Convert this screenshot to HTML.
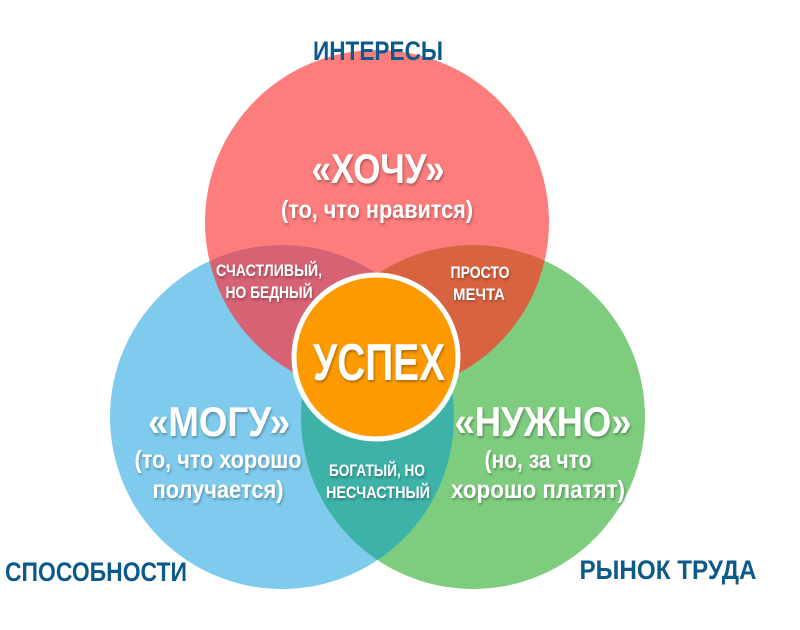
<!DOCTYPE html>
<html><head><meta charset="utf-8"><style>
html,body{margin:0;padding:0;background:#fff;width:800px;height:630px;overflow:hidden}
svg text{font-family:"Liberation Sans",sans-serif;font-weight:bold;text-anchor:middle}
</style></head><body>
<svg width="800" height="630" viewBox="0 0 800 630" xmlns="http://www.w3.org/2000/svg">
<defs>
<filter id="sh" x="-10%" y="-10%" width="120%" height="130%"><feDropShadow dx="1" dy="2" stdDeviation="1.2" flood-color="#000" flood-opacity="0.3"/></filter>
<clipPath id="cR"><circle cx="377" cy="222" r="172"/></clipPath>
<clipPath id="cB"><circle cx="282" cy="417" r="172"/></clipPath>
</defs>
<circle cx="377" cy="222" r="172" fill="#fd7c7c"/>
<circle cx="282" cy="417" r="172" fill="#7ecbee"/>
<circle cx="473" cy="417" r="172" fill="#7ecd7f"/>
<circle cx="282" cy="417" r="172" fill="#d76274" clip-path="url(#cR)"/>
<circle cx="473" cy="417" r="172" fill="#d86340" clip-path="url(#cR)"/>
<circle cx="473" cy="417" r="172" fill="#3cb2a8" clip-path="url(#cB)"/>
<circle cx="376" cy="357" r="82" fill="#fd9a02" stroke="#fff" stroke-width="5"/>
<g fill="#0c5a8a" lengthAdjust="spacingAndGlyphs">
<text x="378" y="60" font-size="27" textLength="130" lengthAdjust="spacingAndGlyphs">ИНТЕРЕСЫ</text>
<text x="96" y="581" font-size="27" textLength="182" lengthAdjust="spacingAndGlyphs">СПОСОБНОСТИ</text>
<text x="668" y="579" font-size="27" textLength="177" lengthAdjust="spacingAndGlyphs">РЫНОК ТРУДА</text>
</g>
<g fill="#fff" filter="url(#sh)">
<text x="378" y="183" font-size="42" textLength="133" lengthAdjust="spacingAndGlyphs">«ХОЧУ»</text>
<text x="377" y="218" font-size="25" textLength="192" lengthAdjust="spacingAndGlyphs">(то, что нравится)</text>
<text x="219" y="436" font-size="42" textLength="142" lengthAdjust="spacingAndGlyphs">«МОГУ»</text>
<text x="218" y="468" font-size="25" textLength="167" lengthAdjust="spacingAndGlyphs">(то, что хорошо</text>
<text x="218" y="498" font-size="25" textLength="131" lengthAdjust="spacingAndGlyphs">получается)</text>
<text x="543" y="436" font-size="42" textLength="177" lengthAdjust="spacingAndGlyphs">«НУЖНО»</text>
<text x="538" y="468" font-size="25" textLength="107" lengthAdjust="spacingAndGlyphs">(но, за что</text>
<text x="538" y="498" font-size="25" textLength="174" lengthAdjust="spacingAndGlyphs">хорошо платят)</text>
<text x="379" y="380" font-size="52" textLength="132" lengthAdjust="spacingAndGlyphs">УСПЕХ</text>
<text x="269" y="276" font-size="17" textLength="106" lengthAdjust="spacingAndGlyphs">СЧАСТЛИВЫЙ,</text>
<text x="269" y="298" font-size="17" textLength="87" lengthAdjust="spacingAndGlyphs">НО БЕДНЫЙ</text>
<text x="480" y="278" font-size="17" textLength="59" lengthAdjust="spacingAndGlyphs">ПРОСТО</text>
<text x="479" y="300" font-size="17" textLength="52" lengthAdjust="spacingAndGlyphs">МЕЧТА</text>
<text x="377" y="476" font-size="17" textLength="96" lengthAdjust="spacingAndGlyphs">БОГАТЫЙ, НО</text>
<text x="378" y="498" font-size="17" textLength="104" lengthAdjust="spacingAndGlyphs">НЕСЧАСТНЫЙ</text>
</g>
</svg>
</body></html>
